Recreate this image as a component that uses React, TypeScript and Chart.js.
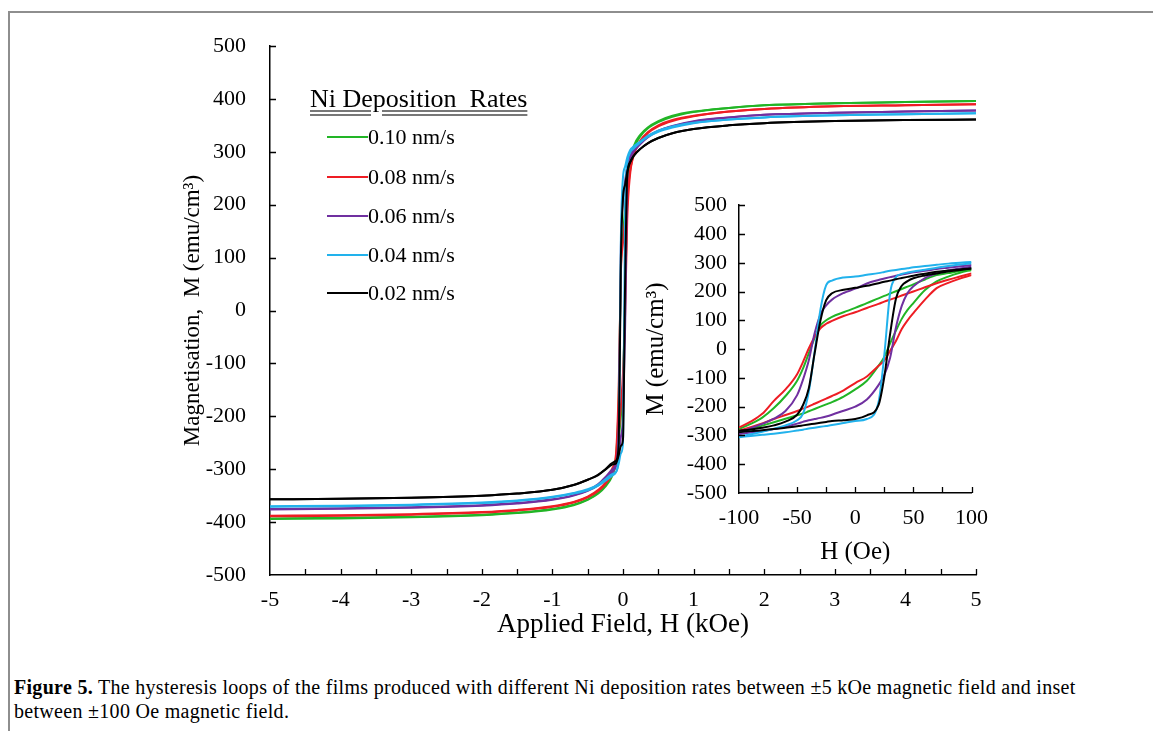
import React, { useEffect, useRef } from 'react';
import { Chart, registerables } from 'chart.js';

Chart.register(...registerables);

const FONT = '"Liberation Serif", "Times New Roman", serif';

// Series (legend order)
const SERIES_LABELS = ['0.10 nm/s', '0.08 nm/s', '0.06 nm/s', '0.04 nm/s', '0.02 nm/s'];
const SERIES_COLORS = ['#22b526', '#ee1d24', '#7030a0', '#22b2ec', '#000000'];
const LEGEND_TITLE = 'Ni Deposition  Rates';

// ---------- Main plot (±5 kOe) ----------
const MAIN_H = [-5, -4, -3, -2, -1.5, -1, -0.7, -0.5, -0.35, -0.25, -0.15, -0.1, -0.06, -0.03, 0, 0.03, 0.06, 0.1, 0.15, 0.25, 0.35, 0.5, 0.7, 1, 1.5, 2, 3, 4, 5];
// ascending (up) and descending (down) branches, emu/cm3
const MAIN_UP_010 = [-394, -393, -391, -387, -383, -376, -368, -358, -346, -333, -312, -289, -242, -200, -140, 20, 205, 275, 305, 330, 344, 356, 366, 375, 383, 388, 392, 394, 396];
const MAIN_DOWN_010 = [-393, -392, -390, -386, -382, -375, -367, -357, -344, -330, -305, -278, -163, 82, 143, 193, 242, 280, 310, 333, 346, 358, 368, 376, 383, 388, 392, 394, 396];
const MAIN_UP_008 = [-389, -388, -386, -382, -378, -371, -363, -353, -341, -328, -308, -284, -229, -181, -118, -6, 172, 257, 292, 320, 335, 348, 358, 367, 376, 381, 386, 388, 390];
const MAIN_DOWN_008 = [-388, -387, -385, -381, -377, -370, -362, -352, -339, -325, -298, -272, -140, 72, 128, 172, 215, 263, 296, 322, 337, 350, 360, 368, 376, 381, 386, 388, 390];
const MAIN_UP_006 = [-376, -375, -373, -369, -365, -358, -350, -341, -330, -318, -305, -295, -270, -239, -200, -30, 247, 286, 300, 315, 327, 339, 348, 357, 365, 370, 374, 376, 378];
const MAIN_DOWN_006 = [-375, -374, -372, -368, -364, -357, -349, -340, -328, -315, -300, -289, -215, 120, 210, 245, 272, 292, 303, 318, 329, 340, 349, 358, 365, 370, 374, 376, 378];
const MAIN_UP_004 = [-371, -370, -368, -364, -360, -353, -346, -340, -331, -322, -312, -306, -289, -270, -250, 195, 276, 298, 306, 318, 328, 338, 346, 354, 361, 365, 369, 371, 373];
const MAIN_DOWN_004 = [-370, -369, -367, -363, -359, -352, -345, -338, -329, -319, -309, -305, -265, 136, 252, 272, 289, 303, 310, 320, 330, 340, 348, 355, 361, 365, 369, 371, 373];
const MAIN_UP_002 = [-357, -356, -354, -350, -346, -339, -330, -320, -311, -301, -291, -289, -273, -256, -243, 53, 256, 280, 292, 306, 316, 326, 335, 343, 350, 354, 358, 360, 361];
const MAIN_DOWN_002 = [-357, -356, -354, -350, -346, -339, -330, -320, -310, -300, -288, -284, -252, 98, 213, 238, 262, 280, 292, 306, 316, 326, 335, 343, 350, 354, 358, 360, 361];

const MAIN_X_MIN = -5, MAIN_X_MAX = 5, MAIN_X_STEP = 0.5;
const MAIN_Y_MIN = -500, MAIN_Y_MAX = 500, MAIN_Y_STEP = 100;
const MAIN_X_TITLE = 'Applied Field, H (kOe)';
const MAIN_Y_TITLE = 'Magnetisation,  M (emu/cm³)';

// ---------- Inset (±100 Oe) ----------
const INSET_H = [-100, -90, -80, -70, -60, -50, -45, -40, -35, -30, -25, -20, -10, 0, 10, 20, 25, 30, 35, 40, 45, 50, 60, 70, 80, 90, 100];
const INSET_DOWN_010 = [-278, -260, -238, -205, -163, -110, -68, -15, 38, 82, 100, 112, 128, 143, 160, 176, 185, 193, 201, 209, 217, 225, 242, 257, 264, 271, 280];
const INSET_UP_010 = [-289, -278, -266, -254, -242, -230, -224, -216, -208, -200, -192, -184, -165, -140, -110, -58, -27, 20, 64, 105, 136, 160, 205, 235, 252, 265, 275];
const INSET_DOWN_008 = [-272, -252, -225, -180, -140, -87, -45, 2, 42, 72, 88, 98, 115, 128, 143, 157, 165, 172, 179, 186, 193, 200, 215, 229, 241, 252, 263];
const INSET_UP_008 = [-284, -271, -258, -243, -229, -215, -207, -199, -190, -181, -172, -163, -143, -118, -95, -58, -39, -6, 28, 70, 100, 125, 172, 212, 230, 245, 257];
const INSET_DOWN_006 = [-289, -275, -260, -242, -215, -160, -107, -40, 54, 120, 152, 172, 195, 210, 228, 240, 245, 250, 255, 259, 263, 267, 272, 278, 283, 288, 292];
const INSET_UP_006 = [-295, -290, -285, -278, -270, -259, -253, -247, -243, -239, -234, -228, -214, -200, -175, -125, -90, -30, 75, 150, 195, 218, 247, 263, 273, 280, 286];
const INSET_DOWN_004 = [-305, -296, -287, -277, -265, -247, -225, -149, -11, 136, 222, 238, 249, 252, 258, 264, 268, 272, 275, 278, 281, 284, 289, 293, 297, 300, 303];
const INSET_UP_004 = [-306, -302, -298, -294, -289, -283, -280, -276, -273, -270, -267, -264, -257, -250, -243, -185, -20, 195, 250, 261, 266, 270, 276, 283, 289, 294, 298];
const INSET_DOWN_002 = [-284, -279, -273, -265, -252, -228, -195, -137, -16, 98, 170, 194, 206, 213, 220, 229, 234, 238, 243, 247, 251, 255, 262, 269, 273, 277, 280];
const INSET_UP_002 = [-289, -285, -282, -278, -273, -268, -265, -262, -259, -256, -253, -250, -247, -243, -230, -195, -96, 53, 175, 220, 236, 246, 256, 263, 270, 275, 280];

const INSET_X_MIN = -100, INSET_X_MAX = 100, INSET_X_STEP = 25, INSET_X_LABEL_STEP = 50;
const INSET_Y_MIN = -500, INSET_Y_MAX = 500, INSET_Y_STEP = 100;
const INSET_X_TITLE = 'H (Oe)';
const INSET_Y_TITLE = 'M (emu/cm³)';

const CAPTION_BOLD = 'Figure 5.';
const CAPTION_LINE1 = ' The hysteresis loops of the films produced with different Ni deposition rates between ±5 kOe magnetic field and inset';
const CAPTION_LINE2 = 'between ±100 Oe magnetic field.';

const MAIN_BRANCHES = [
  [MAIN_DOWN_010, MAIN_UP_010],
  [MAIN_DOWN_008, MAIN_UP_008],
  [MAIN_DOWN_006, MAIN_UP_006],
  [MAIN_DOWN_004, MAIN_UP_004],
  [MAIN_DOWN_002, MAIN_UP_002],
];
const INSET_BRANCHES = [
  [INSET_DOWN_010, INSET_UP_010],
  [INSET_DOWN_008, INSET_UP_008],
  [INSET_DOWN_006, INSET_UP_006],
  [INSET_DOWN_004, INSET_UP_004],
  [INSET_DOWN_002, INSET_UP_002],
];

function buildDatasets(h: number[], branches: number[][][], width: number) {
  const ds: any[] = [];
  for (let s = branches.length - 1; s >= 0; s--) {
    for (const branch of branches[s]) {
      ds.push({
        data: h.map((x, i) => ({ x, y: branch[i] })),
        borderColor: SERIES_COLORS[s],
        backgroundColor: SERIES_COLORS[s],
        borderWidth: width,
        showLine: true,
        pointRadius: 0,
        cubicInterpolationMode: 'monotone',
        fill: false,
      });
    }
  }
  return ds;
}

const insideTicks = {
  id: 'insideTicks',
  afterDraw(chart: any, _args: any, opts: any) {
    const { ctx, chartArea } = chart;
    const len = opts.length ?? 6;
    const xs = chart.scales.x;
    const ys = chart.scales.y;
    ctx.save();
    ctx.strokeStyle = '#000';
    ctx.lineWidth = 1.3;
    ctx.beginPath();
    xs.ticks.forEach((t: any) => {
      const px = Math.round(xs.getPixelForValue(t.value)) + 0.5;
      if (Math.abs(px - chartArea.left) < 2) return;
      ctx.moveTo(px, chartArea.bottom);
      ctx.lineTo(px, chartArea.bottom - len);
    });
    ys.ticks.forEach((t: any) => {
      const py = Math.round(ys.getPixelForValue(t.value)) + 0.5;
      if (Math.abs(py - chartArea.bottom) < 2) return;
      ctx.moveTo(chartArea.left, py);
      ctx.lineTo(chartArea.left + len, py);
    });
    ctx.stroke();
    ctx.restore();
  },
};

function axisCommon() {
  return {
    grid: { display: false, drawTicks: false },
    border: { display: true, color: '#000', width: 1.5 },
  };
}

function MainChart() {
  const ref = useRef<HTMLCanvasElement | null>(null);
  useEffect(() => {
    if (!ref.current) return;
    const chart = new Chart(ref.current, {
      type: 'scatter',
      data: { datasets: buildDatasets(MAIN_H, MAIN_BRANCHES, 2) },
      options: {
        animation: false,
        responsive: false,
        devicePixelRatio: 1,
        layout: { padding: { left: 175, right: 177, top: 46, bottom: 0 } },
        plugins: { legend: { display: false }, tooltip: { enabled: false }, insideTicks: { length: 6 } } as any,
        scales: {
          x: {
            type: 'linear',
            min: MAIN_X_MIN,
            max: MAIN_X_MAX,
            ...axisCommon(),
            ticks: {
              stepSize: MAIN_X_STEP,
              autoSkip: false,
              maxRotation: 0,
              padding: 12,
              color: '#000',
              font: { family: FONT, size: 22 },
              callback: (v: any) => (Number.isInteger(Number(v)) ? String(v) : ''),
            },
            title: { display: true, text: MAIN_X_TITLE, color: '#000', font: { family: FONT, size: 27 }, padding: { top: 0, bottom: 4 } },
            afterFit: (s: any) => { s.height = 70; },
          },
          y: {
            type: 'linear',
            min: MAIN_Y_MIN,
            max: MAIN_Y_MAX,
            ...axisCommon(),
            ticks: {
              stepSize: MAIN_Y_STEP,
              autoSkip: false,
              padding: 24,
              color: '#000',
              font: { family: FONT, size: 22 },
              callback: (v: any) => String(v),
            },
            title: { display: true, text: MAIN_Y_TITLE, color: '#000', font: { family: FONT, size: 23 }, padding: { top: 4, bottom: 0 } },
            afterFit: (s: any) => { s.width = 95; },
          },
        },
      } as any,
      plugins: [insideTicks as any],
    });
    return () => chart.destroy();
  }, []);
  return <canvas ref={ref} width={1153} height={645} style={{ position: 'absolute', left: 0, top: 0, width: 1153, height: 645 }} />;
}

function InsetChart() {
  const ref = useRef<HTMLCanvasElement | null>(null);
  useEffect(() => {
    if (!ref.current) return;
    const chart = new Chart(ref.current, {
      type: 'scatter',
      data: { datasets: buildDatasets(INSET_H, INSET_BRANCHES, 2) },
      options: {
        animation: false,
        responsive: false,
        devicePixelRatio: 1,
        layout: { padding: { left: 0, right: 25, top: 20, bottom: 1 } },
        plugins: { legend: { display: false }, tooltip: { enabled: false }, insideTicks: { length: 6 } } as any,
        scales: {
          x: {
            type: 'linear',
            min: INSET_X_MIN,
            max: INSET_X_MAX,
            ...axisCommon(),
            ticks: {
              stepSize: INSET_X_STEP,
              autoSkip: false,
              maxRotation: 0,
              padding: 12,
              color: '#000',
              font: { family: FONT, size: 22 },
              callback: (v: any) => (Number(v) % INSET_X_LABEL_STEP === 0 ? String(v) : ''),
            },
            title: { display: true, text: INSET_X_TITLE, color: '#000', font: { family: FONT, size: 25 }, padding: { top: 0, bottom: 4 } },
            afterFit: (s: any) => { s.height = 78; },
          },
          y: {
            type: 'linear',
            min: INSET_Y_MIN,
            max: INSET_Y_MAX,
            ...axisCommon(),
            ticks: {
              stepSize: INSET_Y_STEP,
              autoSkip: false,
              padding: 12,
              color: '#000',
              font: { family: FONT, size: 22 },
              callback: (v: any) => String(v),
            },
            title: { display: true, text: INSET_Y_TITLE, color: '#000', font: { family: FONT, size: 25 }, padding: { top: 1, bottom: 0 } },
            afterFit: (s: any) => { s.width = 99; },
          },
        },
      } as any,
      plugins: [insideTicks as any],
    });
    return () => chart.destroy();
  }, []);
  return <canvas ref={ref} width={360} height={392} style={{ position: 'absolute', left: 640, top: 180, width: 360, height: 392 }} />;
}

const LEGEND_ROW_Y = [137, 177, 216, 255, 293];

export default function App() {
  return (
    <div style={{ position: 'fixed', left: 0, top: 0, width: 1153, height: 731, overflow: 'hidden', background: '#fff', fontFamily: FONT, color: '#000' }}>
      <div style={{ position: 'absolute', left: 8, top: 11, width: 1400, height: 1000, borderLeft: '2px solid #8e8e8e', borderTop: '2px solid #8e8e8e' }} />
      <MainChart />
      <InsetChart />
      <div style={{ position: 'absolute', left: 310, top: 84, fontSize: 26, lineHeight: '30px', whiteSpace: 'pre', textDecoration: 'underline', textDecorationStyle: 'double', textDecorationColor: '#777', textUnderlineOffset: '3px' }}>
        {LEGEND_TITLE}
      </div>
      {SERIES_LABELS.map((lab, i) => (
        <div key={lab} style={{ position: 'absolute', left: 327, top: LEGEND_ROW_Y[i] - 14, height: 28, display: 'flex', alignItems: 'center' }}>
          <div style={{ width: 41, height: 2, background: SERIES_COLORS[i] }} />
          <span style={{ fontSize: 22, lineHeight: '28px', whiteSpace: 'pre' }}>{lab}</span>
        </div>
      ))}
      <div style={{ position: 'absolute', left: 14, top: 675, width: 1130, fontSize: 20, lineHeight: '24px', letterSpacing: '0.3px' }}>
        <div style={{ whiteSpace: 'pre' }}><b>{CAPTION_BOLD}</b>{CAPTION_LINE1}</div>
        <div style={{ whiteSpace: 'pre' }}>{CAPTION_LINE2}</div>
      </div>
    </div>
  );
}
